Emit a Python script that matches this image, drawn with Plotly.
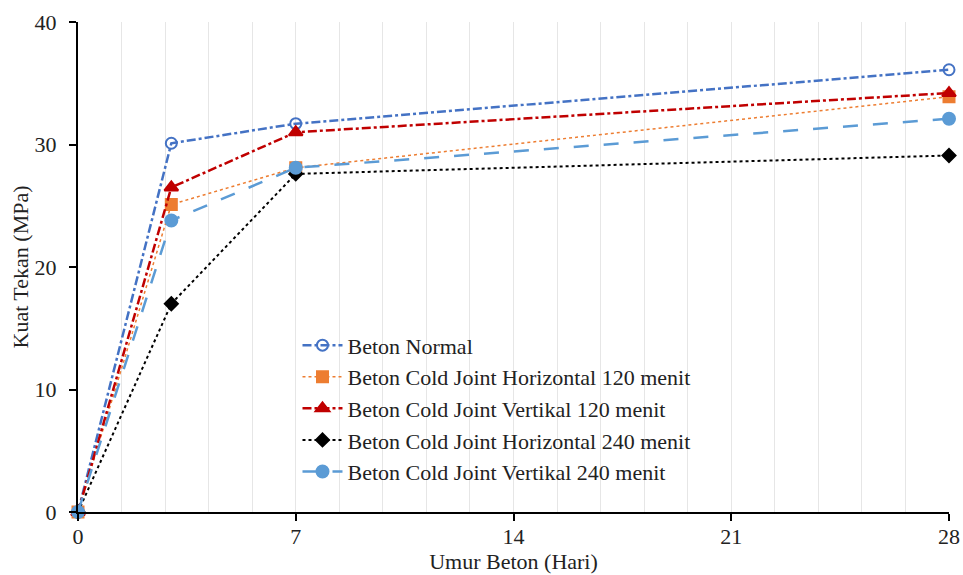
import plotly.graph_objects as go

umur = [0, 3, 7, 28]
normal = [0, 30.1, 31.7, 36.1]
h120 = [0, 25.1, 28.1, 33.9]
v120 = [0, 26.5, 31.0, 34.2]
h240 = [0, 17.0, 27.6, 29.1]
v240 = [0, 23.8, 28.1, 32.1]

names = ["Beton Normal",
         "Beton Cold Joint Horizontal 120 menit",
         "Beton Cold Joint Vertikal 120 menit",
         "Beton Cold Joint Horizontal 240 menit",
         "Beton Cold Joint Vertikal 240 menit"]
x_ticks = [0, 7, 14, 21, 28]
y_ticks = [0, 10, 20, 30, 40]

styles = [
    dict(color="#4472C4", dash="dashdot", width=2.5, symbol="circle-open", size=11),
    dict(color="#ED7D31", dash="3px,3px", width=1.5, symbol="square", size=11),
    dict(color="#C00000", dash="dashdot", width=2.5, symbol="triangle-up", size=12),
    dict(color="#000000", dash="dot", width=2, symbol="diamond", size=10),
    dict(color="#5B9BD5", dash="longdash", width=2.5, symbol="circle", size=12),
]
series = [normal, h120, v120, h240, v240]

fig = go.Figure()
for i, (nm, ys, st) in enumerate(zip(names, series, styles)):
    fig.add_trace(go.Scatter(
        x=umur, y=ys, name=nm, mode="lines+markers", legendgroup=f"g{i}",
        line=dict(color=st["color"], dash=st["dash"], width=st["width"]),
        marker=dict(symbol=st["symbol"], size=st["size"], color=st["color"],
                    line=dict(color=st["color"], width=2)),
        cliponaxis=False,
    ))

font = "Liberation Serif, Times New Roman, serif"
fig.update_layout(
    width=963, height=575,
    margin=dict(l=78, r=14, t=22, b=63, autoexpand=False),
    paper_bgcolor="white", plot_bgcolor="white",
    font=dict(family=font, size=22, color="#222"),
    legend=dict(x=0.252, y=0.383, xanchor="left", yanchor="top",
                bgcolor="rgba(0,0,0,0)", font=dict(size=22, family=font),
                tracegroupgap=0, itemwidth=40),
    showlegend=True,
)
fig.update_xaxes(
    range=[0, 28], tickvals=x_ticks, ticktext=[str(v) for v in x_ticks],
    showline=True, linecolor="black", linewidth=2,
    ticks="outside", ticklen=7, tickcolor="black", tickwidth=2,
    ticklabelstandoff=-3,
    showgrid=False,
    minor=dict(dtick=1.4, tick0=0, showgrid=True, gridcolor="#E6E6E6", gridwidth=1),
    title=dict(text="Umur Beton (Hari)", font=dict(size=22, family=font), standoff=5),
    zeroline=False, tickfont=dict(size=22, family=font),
)
fig.update_yaxes(
    range=[0, 40], tickvals=y_ticks,
    showline=True, linecolor="black", linewidth=2,
    ticks="outside", ticklen=7, tickcolor="black", tickwidth=2,
    ticklabelstandoff=8,
    showgrid=False, zeroline=False,
    title=dict(text="Kuat Tekan (MPa)", font=dict(size=22, family=font), standoff=0),
    tickfont=dict(size=22, family=font),
)

fig.write_html("out.html")
